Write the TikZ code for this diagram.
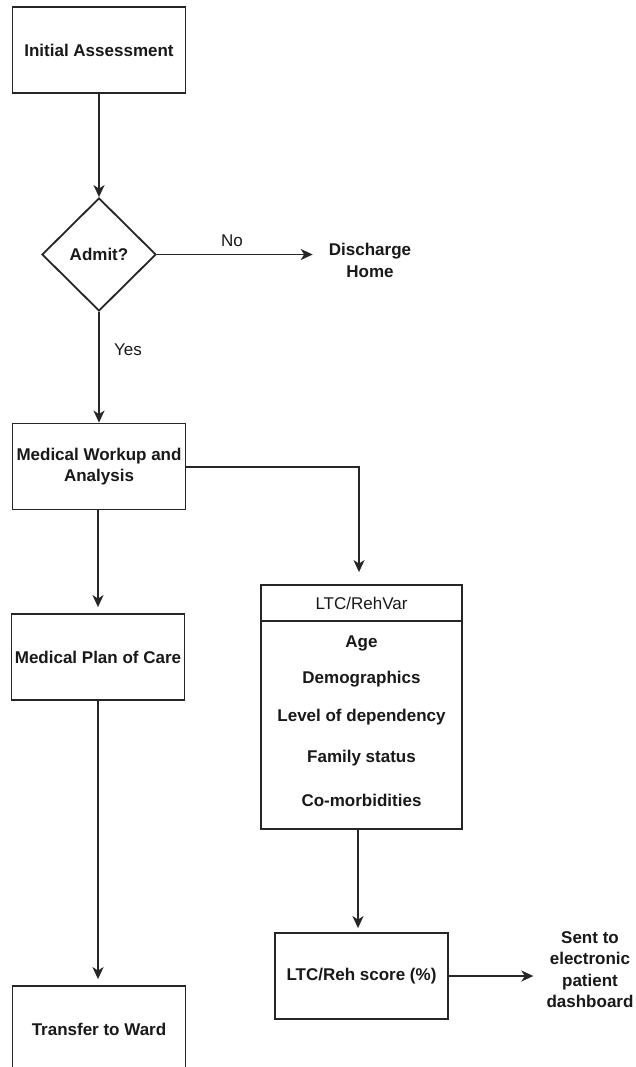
\documentclass[tikz,border=0pt]{standalone}
\usepackage{fontspec}
\setmainfont{Liberation Sans}
\usetikzlibrary{shapes.geometric,arrows.meta,calc}
\begin{document}
\begin{tikzpicture}[x=1pt,y=-1pt,
  every node/.style={font=\fontsize{17}{21.5}\selectfont\bfseries, text=black!90, align=center},
  box/.style={draw=black!85, line width=1.8pt, rectangle, minimum width=173pt, minimum height=86pt, inner sep=0pt},
  dec/.style={draw=black!85, line width=1.8pt, diamond, minimum width=114pt, minimum height=113pt, inner sep=0pt},
  plain/.style={inner sep=0pt},
  lbl/.style={inner sep=0pt, font=\fontsize{17}{21.5}\selectfont},
  conn/.style={draw=black!85, line width=1.8pt, -{Stealth[length=12pt,width=11pt,inset=3.5pt]}}
]
\useasboundingbox (0,0) rectangle (635,1067);
\fill[white] (0,0) rectangle (635,1067);

\node[box] (init) at (99,50) {Initial Assessment};
\node[dec] (admit) at (99,254.5) {Admit?};
\node[plain] (dis) at (370,260.5) {Discharge\\Home};
\node[box] (work) at (99,466.5) {Medical Workup and\\Analysis};
\node[box] (plan) at (98,657) {Medical Plan of Care};
\node[box] (ward) at (99,1029) {Transfer to Ward};

\node[draw=black!85, line width=1.8pt, rectangle, minimum width=201pt, minimum height=244pt, inner sep=0pt] (tab) at (361.5,707) {};
\coordinate (hl) at ($(tab.north west)+(0,37)$);
\coordinate (hr) at ($(tab.north east)+(0,37)$);
\draw[draw=black!85, line width=1.8pt] (hl) -- (hr);
\node[lbl] (head) at (361.5,603) {LTC/RehVar};
\node[plain] (age) at (361.5,643) {Age};
\node[plain] (demo) at (361.5,679) {Demographics};
\node[plain] (lev) at (361.5,717) {Level of dependency};
\node[plain] (fam) at (361.5,758) {Family status};
\node[plain] (como) at (361.5,800) {Co-morbidities};

\node[box] (score) at (361.5,976) {LTC/Reh score (\%)};
\node[plain] (sent) at (590,969.5) {Sent to\\electronic\\patient\\dashboard};

\draw[conn] (init.south) -- (admit.north);
\draw[conn, shorten >=16pt] (admit.east) -- (admit.east -| dis.west);
\node[lbl] (no) at (232,241) {No};
\draw[conn] (admit.south) -- (work.north);
\node[lbl] (yes) at (128,350) {Yes};
\draw[conn, shorten >=12pt] ($(work.east)+(0,0.5)$) -| (tab.north -| 359,0);
\draw[conn, shorten >=6pt] (work.south -| plan.south) -- (plan.north);
\draw[conn, shorten >=6pt] (plan.south) -- (plan.south |- ward.north);
\draw[conn, shorten >=4pt] (tab.south -| 358,0) -- (score.north -| 358,0);
\draw[conn, shorten >=13pt] (score.east) -- (score.east -| sent.west);
\end{tikzpicture}
\end{document}
